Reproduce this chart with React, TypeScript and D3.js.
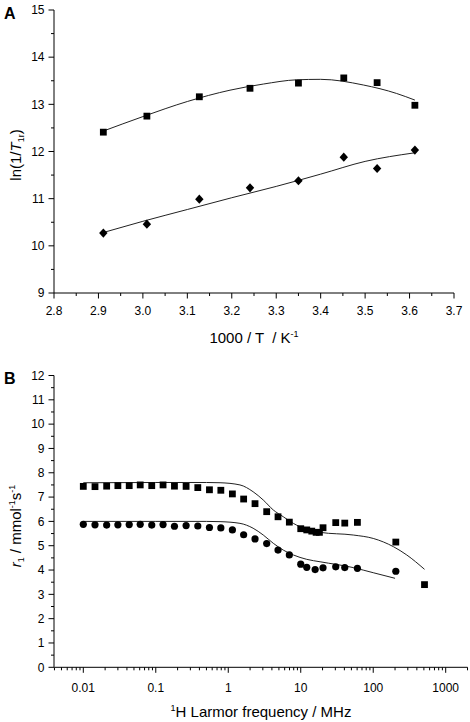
import React, { useEffect } from "react";
import * as d3 from "d3";

// ---------- Panel A data ----------
const tempX = [2.911, 3.009, 3.127, 3.241, 3.35, 3.452, 3.527, 3.612];
const lnSquares = [12.41, 12.75, 13.16, 13.34, 13.45, 13.56, 13.46, 12.98];
const lnDiamonds = [10.27, 10.46, 10.99, 11.23, 11.38, 11.88, 11.64, 12.03];
const fitSqX = [2.91, 3.0, 3.1, 3.196, 3.271, 3.346, 3.4, 3.496, 3.571, 3.612];
const fitSqY = [12.43, 12.74, 13.06, 13.3, 13.43, 13.52, 13.53, 13.41, 13.23, 13.09];
const fitDiaX = [2.91, 3.0, 3.1, 3.2, 3.3, 3.4, 3.5, 3.61];
const fitDiaY = [10.28, 10.52, 10.77, 11.02, 11.26, 11.52, 11.79, 11.97];
const aXTicks = [2.8, 2.9, 3.0, 3.1, 3.2, 3.3, 3.4, 3.5, 3.6, 3.7];
const aYTicks = [9, 10, 11, 12, 13, 14, 15];

// ---------- Panel B data ----------
const freqSq = [0.01, 0.0145, 0.021, 0.03, 0.043, 0.061, 0.088, 0.126, 0.181, 0.262, 0.38, 0.55, 0.79, 1.14, 1.63, 2.34, 3.39, 4.86, 6.96, 10.0, 12.1, 14.2, 16.3, 18.1, 20.3, 30.4, 40.5, 60.5, 205, 510];
const r1Sq = [7.44, 7.43, 7.45, 7.47, 7.47, 7.5, 7.47, 7.5, 7.45, 7.44, 7.39, 7.3, 7.28, 7.13, 6.92, 6.73, 6.4, 6.19, 5.97, 5.7, 5.65, 5.6, 5.55, 5.55, 5.74, 5.95, 5.93, 5.96, 5.15, 3.4];
const freqCi = [0.01, 0.0145, 0.021, 0.03, 0.043, 0.061, 0.088, 0.126, 0.181, 0.262, 0.38, 0.55, 0.79, 1.14, 1.63, 2.34, 3.39, 4.86, 6.96, 10.0, 12.1, 15.8, 20.3, 30.4, 40.5, 60.5, 205];
const r1Ci = [5.88, 5.86, 5.85, 5.86, 5.87, 5.88, 5.85, 5.87, 5.8, 5.83, 5.81, 5.75, 5.73, 5.65, 5.45, 5.28, 5.09, 4.82, 4.62, 4.24, 4.11, 4.02, 4.09, 4.13, 4.1, 4.07, 3.95];
const fitUpF = [0.01, 0.1, 0.5, 0.77, 1.45, 2.2, 3.04, 4.18, 5.75, 7.9, 12.1, 18.5, 53, 100, 190, 290, 510];
const fitUpR = [7.59, 7.6, 7.6, 7.59, 7.5, 7.22, 6.88, 6.47, 6.19, 5.92, 5.67, 5.55, 5.44, 5.3, 4.96, 4.62, 4.03];
const fitLoF = [0.01, 0.1, 0.5, 0.77, 1.45, 2.2, 3.04, 4.18, 5.75, 7.9, 12.1, 18.5, 53, 100, 200];
const fitLoR = [6.0, 6.0, 6.0, 5.99, 5.92, 5.72, 5.44, 5.1, 4.82, 4.62, 4.44, 4.34, 4.1, 3.89, 3.66];
const bXTicks = [0.01, 0.1, 1, 10, 100, 1000];
const bXTickLabels = ["0.01", "0.1", "1", "10", "100", "1000"];
const bYTicks = [0, 1, 2, 3, 4, 5, 6, 7, 8, 9, 10, 11, 12];

const FONT = "'Liberation Sans', Arial, Helvetica, sans-serif";
const INK = "#000";

export default function App() {
  useEffect(() => {
    document.body.style.margin = "0";
  }, []);

  // Panel A scales
  const ax = d3.scaleLinear().domain([2.8, 3.7]).range([54, 454]);
  const ay = d3.scaleLinear().domain([9, 15]).range([293, 10]);
  // Panel B scales
  const bx = d3.scaleLog().domain([0.01, 1000]).range([83.3, 445.7]);
  const by = d3.scaleLinear().domain([0, 12]).range([667.3, 375.5]);
  const bxMin = 0.004;
  const bxMax = 2000;

  const lineA = d3
    .line<[number, number]>()
    .x((d) => ax(d[0]))
    .y((d) => ay(d[1]))
    .curve(d3.curveMonotoneX);
  const lineB = d3
    .line<[number, number]>()
    .x((d) => bx(d[0]))
    .y((d) => by(d[1]))
    .curve(d3.curveMonotoneX);

  const aMinorX = d3.range(0, 18).map((i) => 2.85 + i * 0.1).filter((v) => v < 3.7);
  const aMinorY = d3.range(0, 6).map((i) => 9.5 + i);
  const bMinorY = d3.range(0, 12).map((i) => 0.5 + i);
  const bMinorX: number[] = [];
  for (let e = -3; e <= 3; e++) {
    for (let k = 2; k <= 9; k++) {
      const v = k * Math.pow(10, e);
      if (v >= bxMin * 0.999 && v <= bxMax * 1.001) bMinorX.push(v);
    }
  }

  const sq = 6.8;
  const diamond = "M0,-4.6L4.2,0L0,4.6L-4.2,0Z";

  return (
    <svg
      width={470}
      height={722}
      style={{ position: "absolute", left: 0, top: 0, background: "#fff" }}
      fontFamily={FONT}
    >
      <rect x={0} y={0} width={470} height={722} fill="#fff" />
      {/* ================= Panel A ================= */}
      <text x={4} y={18.5} fontSize={16} fontWeight="bold" fill={INK}>A</text>
      {/* axes */}
      <line x1={54} x2={54} y1={ay(15)} y2={ay(9)} stroke={INK} strokeWidth={1} />
      <line x1={54} x2={454} y1={ay(9)} y2={ay(9)} stroke={INK} strokeWidth={1} />
      {aYTicks.map((t) => (
        <g key={"ay" + t}>
          <line x1={48.5} x2={54} y1={ay(t)} y2={ay(t)} stroke={INK} />
          <text x={44.5} y={ay(t) + 4.3} fontSize={12} textAnchor="end" fill={INK}>{t}</text>
        </g>
      ))}
      {aMinorY.map((t) => (
        <line key={"aym" + t} x1={51} x2={54} y1={ay(t)} y2={ay(t)} stroke={INK} />
      ))}
      {aXTicks.map((t) => (
        <g key={"ax" + t}>
          <line x1={ax(t)} x2={ax(t)} y1={ay(9)} y2={ay(9) + 5.5} stroke={INK} />
          <text x={ax(t)} y={315} fontSize={12} textAnchor="middle" fill={INK}>{t.toFixed(1)}</text>
        </g>
      ))}
      {aMinorX.map((t) => (
        <line key={"axm" + t} x1={ax(t)} x2={ax(t)} y1={ay(9)} y2={ay(9) + 3} stroke={INK} />
      ))}
      <text x={254} y={342.5} fontSize={15} textAnchor="middle" fill={INK} style={{ whiteSpace: "pre" }}>
        {"1000 / T  / K"}
        <tspan fontSize={9} dy={-6}>-1</tspan>
      </text>
      <text transform="translate(21,155) rotate(-90)" fontSize={15} textAnchor="middle" fill={INK}>
        ln(1/<tspan fontStyle="italic">T</tspan>
        <tspan fontSize={9} dy={3}>1r</tspan>
        <tspan dy={-3}>)</tspan>
      </text>
      {/* fits */}
      <path d={lineA(fitSqX.map((x, i) => [x, fitSqY[i]]) as [number, number][]) || ""} fill="none" stroke="#222" strokeWidth={1} />
      <path d={lineA(fitDiaX.map((x, i) => [x, fitDiaY[i]]) as [number, number][]) || ""} fill="none" stroke="#222" strokeWidth={1} />
      {/* markers */}
      {tempX.map((x, i) => (
        <rect key={"as" + i} x={ax(x) - sq / 2} y={ay(lnSquares[i]) - sq / 2} width={sq} height={sq} fill={INK} />
      ))}
      {tempX.map((x, i) => (
        <path key={"ad" + i} d={diamond} transform={`translate(${ax(x)},${ay(lnDiamonds[i])})`} fill={INK} />
      ))}

      {/* ================= Panel B ================= */}
      <text x={4} y={383.5} fontSize={16} fontWeight="bold" fill={INK}>B</text>
      <line x1={54} x2={54} y1={by(12)} y2={by(0)} stroke={INK} strokeWidth={1} />
      <line x1={bx(bxMin)} x2={bx(bxMax)} y1={by(0)} y2={by(0)} stroke={INK} strokeWidth={1} />
      {bYTicks.map((t) => (
        <g key={"by" + t}>
          <line x1={48.5} x2={54} y1={by(t)} y2={by(t)} stroke={INK} />
          <text x={44.5} y={by(t) + 4.3} fontSize={12} textAnchor="end" fill={INK}>{t}</text>
        </g>
      ))}
      {bMinorY.map((t) => (
        <line key={"bym" + t} x1={51} x2={54} y1={by(t)} y2={by(t)} stroke={INK} />
      ))}
      {bXTicks.map((t, i) => (
        <g key={"bx" + t}>
          <line x1={bx(t)} x2={bx(t)} y1={by(0)} y2={by(0) + 5.5} stroke={INK} />
          <text x={bx(t)} y={691.5} fontSize={12} textAnchor="middle" fill={INK}>{bXTickLabels[i]}</text>
        </g>
      ))}
      {bMinorX.map((t) => (
        <line key={"bxm" + t} x1={bx(t)} x2={bx(t)} y1={by(0)} y2={by(0) + 3} stroke={INK} />
      ))}
      <text x={261} y={717} fontSize={15} textAnchor="middle" fill={INK}>
        <tspan fontSize={9} dy={-6}>1</tspan>
        <tspan dy={6}>H Larmor frequency / MHz</tspan>
      </text>
      <text transform="translate(21,526) rotate(-90)" fontSize={15} textAnchor="middle" fill={INK}>
        <tspan fontStyle="italic">r</tspan>
        <tspan fontSize={9} dy={3}>1</tspan>
        <tspan dy={-3}>{" / mmol"}</tspan>
        <tspan fontSize={9} dy={-6}>-1</tspan>
        <tspan dy={6}>s</tspan>
        <tspan fontSize={9} dy={-6}>-1</tspan>
      </text>
      {/* fits */}
      <path d={lineB(fitUpF.map((f, i) => [f, fitUpR[i]]) as [number, number][]) || ""} fill="none" stroke="#222" strokeWidth={1} />
      <path d={lineB(fitLoF.map((f, i) => [f, fitLoR[i]]) as [number, number][]) || ""} fill="none" stroke="#222" strokeWidth={1} />
      {/* markers */}
      {freqSq.map((f, i) => (
        <rect key={"bs" + i} x={bx(f) - sq / 2} y={by(r1Sq[i]) - sq / 2} width={sq} height={sq} fill={INK} />
      ))}
      {freqCi.map((f, i) => (
        <circle key={"bc" + i} cx={bx(f)} cy={by(r1Ci[i])} r={3.6} fill={INK} />
      ))}
    </svg>
  );
}
